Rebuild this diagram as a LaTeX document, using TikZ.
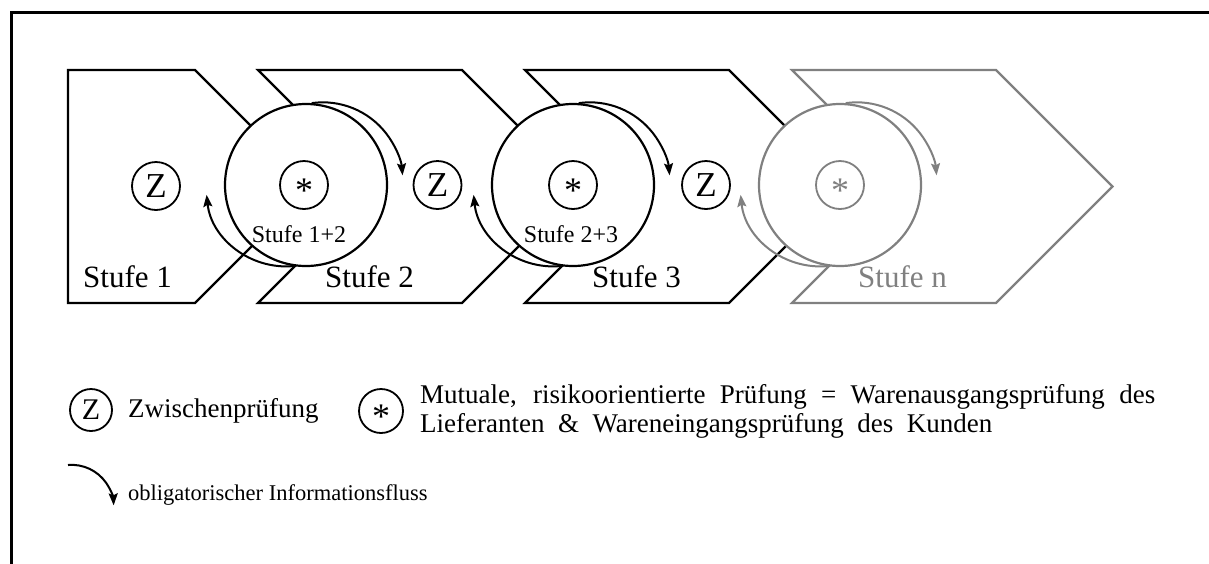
\documentclass[tikz,border=0pt]{standalone}
\usepackage{fontspec}
\setmainfont{Liberation Serif}
\usetikzlibrary{arrows.meta}
\definecolor{stagegray}{RGB}{128,128,128}
\begin{document}
\begin{tikzpicture}[x=1pt,y=1pt,
  chev/.style={line width=2.2pt, line join=miter},
  bigc/.style={circle, draw, line width=2.2pt, fill=white, minimum size=162pt, inner sep=0pt},
  starc/.style={circle, draw, line width=1.8pt, minimum size=48pt, inner sep=0pt},
  zc/.style={circle, draw, line width=1.8pt, minimum size=48pt, inner sep=0pt, font=\fontsize{35}{35}\selectfont},
  startxt/.style={font=\fontsize{36}{36}\selectfont, yshift=-5.5pt, inner sep=0pt},
  flow/.style={line width=2pt, -{Stealth[length=12pt,width=9pt,inset=2pt]}},
  stagelbl/.style={anchor=base west, inner sep=0pt, font=\fontsize{31}{31}\selectfont},
  pairlbl/.style={anchor=base, inner sep=0pt, font=\fontsize{24}{24}\selectfont},
  legtxt/.style={anchor=base west, inner sep=0pt, font=\fontsize{27}{29}\selectfont},
]
\useasboundingbox (0,0) rectangle (1209,-563);

% frame (top and left edge)
\draw[line width=3pt] (11,-565) -- (11,-12) -- (1212,-12);

% process stages
\draw[chev] (68,-70) -- (195,-70) -- (311.5,-186.5) -- (195,-303) -- (68,-303) -- cycle;
\foreach \d in {0,267}{
  \draw[chev] (258+\d,-70) -- (462+\d,-70) -- (578.5+\d,-186.5) -- (462+\d,-303)
     -- (258+\d,-303) -- (374.5+\d,-186.5) -- cycle;
}
\draw[chev, stagegray] (792,-70) -- (996,-70) -- (1112.5,-186.5) -- (996,-303)
     -- (792,-303) -- (908.5,-186.5) -- cycle;

\node[stagelbl] (st1) at (83,-287) {Stufe 1};
\node[stagelbl] (st2) at (325,-287) {Stufe 2};
\node[stagelbl] (st3) at (592,-287) {Stufe 3};
\node[stagelbl, text=stagegray] (stn) at (858,-287) {Stufe n};

% joint inspections between neighbouring stages
\node[bigc] (m12) at (306,-185) {};
\node[bigc] (m23) at (573,-185) {};
\node[bigc, draw=stagegray] (mn) at (840,-185) {};

\node[starc] (s12) at (304,-185) {};
\node[startxt] (a12) at (s12) {*};
\node[starc] (s23) at (573,-185) {};
\node[startxt] (a23) at (s23) {*};
\node[starc, draw=stagegray] (sn) at (840,-185) {};
\node[startxt, text=stagegray] (an) at (sn) {*};

\node[pairlbl] (l12) at (299,-242) {Stufe 1+2};
\node[pairlbl] (l23) at (571,-242) {Stufe 2+3};

% intermediate inspections
\node[zc] (z1) at (156,-186) {Z};
\node[zc] (z2) at (437.5,-185) {Z};
\node[zc] (z3) at (706,-185) {Z};

% information flow
\draw[flow] (m12.261) arc[start angle=275, end angle=186, radius=80];
\draw[flow] (m12.86) arc[start angle=98, end angle=5, radius=80];
\draw[flow] (m23.261) arc[start angle=275, end angle=186, radius=80];
\draw[flow] (m23.86) arc[start angle=98, end angle=5, radius=80];
\draw[flow, stagegray] (mn.261) arc[start angle=275, end angle=186, radius=80];
\draw[flow, stagegray] (mn.86) arc[start angle=98, end angle=5, radius=80];

% legend
\node[zc, minimum size=42pt, font=\fontsize{30}{30}\selectfont] (lz) at (91,-410) {Z};
\node[legtxt] (lzt) at (128,-417) {Zwischenprüfung};
\node[starc, minimum size=44pt] (ls) at (381,-411) {};
\node[startxt] (lsa) at (ls) {*};
\node[legtxt] (lst1) at (420,-403) {\makebox[735pt][s]{Mutuale, risikoorientierte Prüfung = Warenausgangsprüfung des}};
\node[legtxt] (lst2) at (420,-432) {\makebox[572pt][s]{Lieferanten \& Wareneingangsprüfung des Kunden}};

\coordinate (fa) at (68,-465);
\draw[flow] (fa) arc[start angle=95, end angle=2, radius=42];
\node[legtxt, font=\fontsize{22.5}{24}\selectfont] (lf) at (128,-500) {obligatorischer Informationsfluss};
\end{tikzpicture}
\end{document}
